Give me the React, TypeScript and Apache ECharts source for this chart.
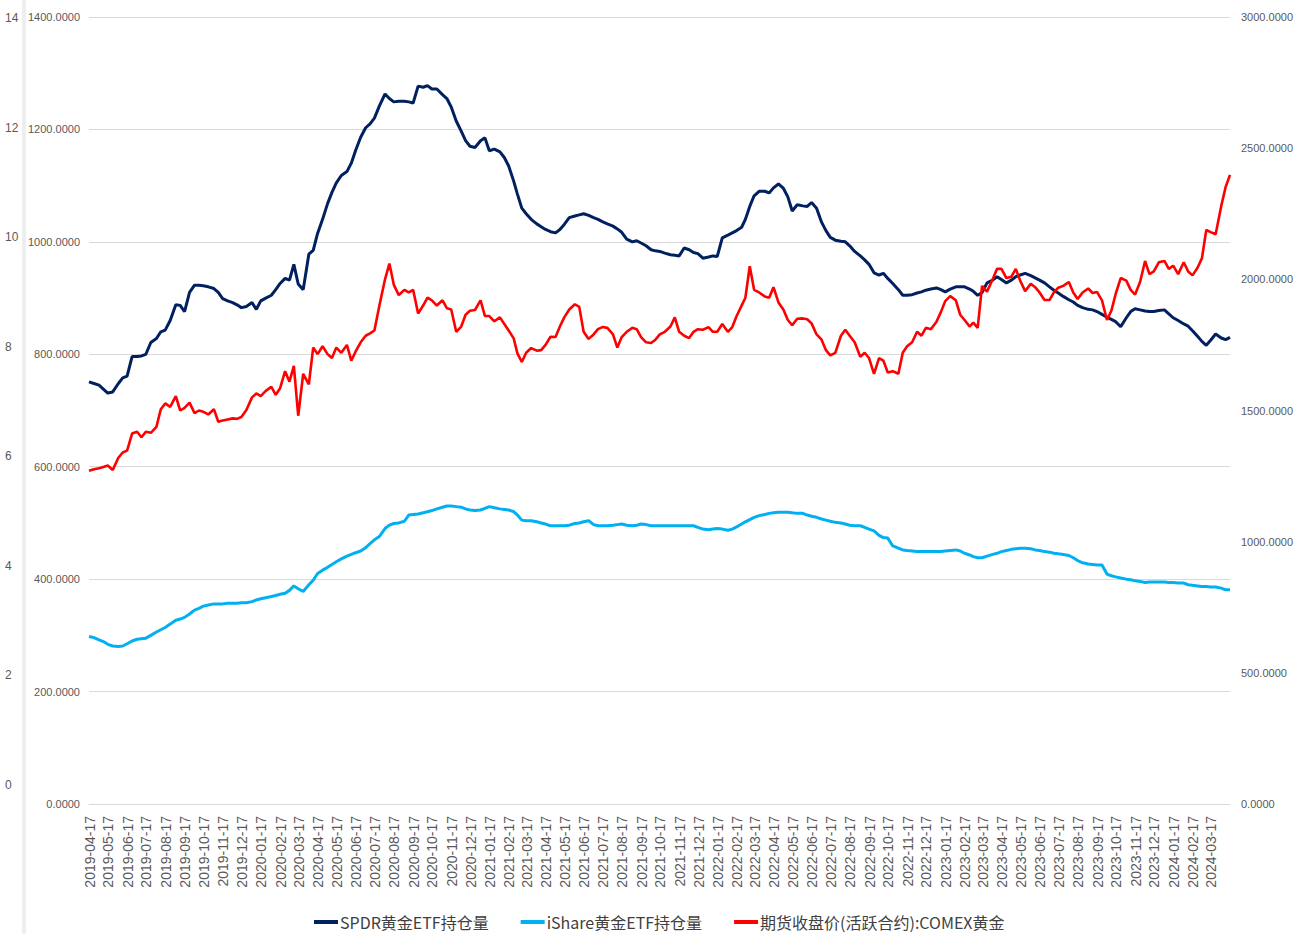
import React, { useEffect, useRef } from "react";
import * as echarts from "echarts";

const pad = (n: number) => String(n).padStart(2, "0");

// sampling dates (2nd, 9th, 16th, 24th of each month), 2019-04-16 .. 2024-04-16
const sampleDates: string[] = [];
for (let y = 2019; y <= 2024; y++) {
  for (let m = 1; m <= 12; m++) {
    for (const d of [2, 9, 16, 24]) {
      const s = `${y}-${pad(m)}-${pad(d)}`;
      if (s >= "2019-04-16" && s <= "2024-04-16") sampleDates.push(s);
    }
  }
}

// tick labels: the 17th of each month, 2019-04 .. 2024-03
const tickLabels: string[] = [];
for (let y = 2019; y <= 2024; y++) {
  for (let m = 1; m <= 12; m++) {
    const s = `${y}-${pad(m)}-17`;
    if (s >= "2019-04-17" && s <= "2024-03-17") tickLabels.push(s);
  }
}

const seriesNames = ["SPDR黄金ETF持仓量", "iShare黄金ETF持仓量", "期货收盘价(活跃合约):COMEX黄金"];

const spdrValues = [
  // 2019
  751, 748, 745, 738, 731, 733, 748, 758, 761, 796, 796, 797, 800, 821, 828, 840, 843, 860, 888, 887, 876, 910, 923, 923, 922, 920, 917, 910, 899, 895, 892, 888, 883, 885,
  // 2020
  892, 880, 895, 900, 905, 915, 926, 935, 932, 960, 925, 915, 978, 985, 1015, 1040, 1068, 1088, 1105, 1118, 1125, 1140, 1163, 1186, 1203, 1210, 1220, 1242, 1263, 1255, 1249, 1250, 1250, 1249, 1247, 1277, 1275, 1278, 1272, 1272, 1262, 1255, 1240, 1215, 1197, 1180, 1170, 1168,
  // 2021
  1180, 1185, 1162, 1165, 1160, 1150, 1135, 1108, 1085, 1060, 1050, 1040, 1032, 1027, 1022, 1018, 1016, 1022, 1031, 1043, 1046, 1048, 1050, 1047, 1043, 1040, 1036, 1032, 1028, 1023, 1017, 1005, 1000, 1002, 998, 993, 986, 984, 983, 980, 977, 976, 975, 989, 986, 981, 979, 971,
  // 2022
  973, 975, 974, 1007, 1012, 1016, 1020, 1026, 1040, 1063, 1082, 1090, 1090, 1087, 1096, 1103, 1095, 1080, 1055, 1066, 1064, 1063, 1070, 1060, 1035, 1020, 1008, 1003, 1001, 1000, 993, 983, 975, 968, 960, 945, 941, 944, 935, 926, 915, 905, 905, 906, 909, 911, 914, 916,
  // 2023
  918, 915, 911, 916, 920, 920, 920, 916, 912, 905, 910, 927, 932, 938, 933, 927, 932, 938, 941, 944, 940, 936, 932, 927, 920, 914, 909, 903, 897, 893, 887, 883, 880, 879, 876, 871, 866, 862, 858, 849, 865, 876, 881, 879, 877, 876, 876, 878,
  // 2024
  879, 872, 865, 860, 854, 850, 842, 832, 823, 816, 825, 836, 829, 826, 830,
];

const ishareValues = [
  // 2019
  298, 296, 292, 289, 284, 281, 280, 281, 285, 290, 293, 294, 295, 300, 306, 310, 314, 320, 327, 329, 332, 338, 345, 348, 352, 354, 356, 356, 356, 357, 357, 357, 358, 358,
  // 2020
  360, 363, 365, 367, 369, 371, 373, 375, 380, 388, 383, 378, 390, 398, 410, 416, 421, 426, 431, 436, 441, 444, 447, 450, 456, 463, 470, 476, 490, 496, 499, 500, 503, 514, 515, 516, 518, 520, 522, 525, 528, 530, 530, 529, 528, 525, 523, 522,
  // 2021
  523, 526, 529, 527, 525, 524, 523, 520, 514, 505, 504, 504, 502, 500, 498, 495, 495, 495, 495, 496, 499, 500, 502, 504, 497, 495, 495, 495, 496, 497, 498, 496, 495, 496, 498, 497, 495, 495, 495, 495, 495, 495, 495, 495, 495, 495, 492, 489,
  // 2022
  488, 489, 490, 489, 487, 489, 493, 498, 502, 506, 510, 513, 515, 517, 518, 519, 519, 519, 518, 517, 517, 514, 512, 510, 507, 505, 503, 501, 500, 498, 496, 495, 495, 492, 489, 486, 478, 474, 473, 459, 455, 452, 451, 450, 449, 449, 449, 449,
  // 2023
  449, 449, 450, 451, 452, 450, 446, 443, 440, 438, 438, 441, 444, 446, 449, 451, 453, 454, 455, 455, 454, 452, 451, 449, 448, 446, 445, 444, 442, 438, 433, 429, 427, 426, 425, 425, 409, 406, 404, 402, 400, 399, 397, 396, 394, 395, 395, 395,
  // 2024
  395, 394, 394, 393, 393, 390, 389, 388, 387, 387, 386, 386, 384, 381, 381,
];

const comexValues = [
  // 2019
  1270, 1276, 1280, 1285, 1290, 1273, 1320, 1340, 1347, 1412, 1419, 1398, 1419, 1415, 1438, 1505, 1527, 1514, 1555, 1500, 1510, 1530, 1490, 1500, 1495, 1485, 1505, 1457, 1462, 1466, 1470, 1468, 1475, 1502,
  // 2020
  1550, 1565, 1555, 1575, 1590, 1560, 1585, 1650, 1610, 1670, 1480, 1640, 1600, 1740, 1715, 1745, 1715, 1700, 1740, 1720, 1750, 1690, 1725, 1760, 1785, 1794, 1805, 1900, 2000, 2060, 1980, 1940, 1960, 1950, 1960, 1870, 1900, 1930, 1920, 1900, 1920, 1890, 1885, 1800, 1820, 1865, 1880, 1883,
  // 2021
  1920, 1860, 1860, 1840, 1855, 1830, 1805, 1775, 1718, 1685, 1720, 1738, 1728, 1730, 1750, 1781, 1780, 1820, 1855, 1885, 1905, 1895, 1800, 1773, 1790, 1810, 1818, 1815, 1790, 1740, 1780, 1800, 1815, 1810, 1780, 1760, 1757, 1770, 1790, 1800, 1820, 1855, 1800, 1785, 1776, 1800, 1810, 1808,
  // 2022
  1818, 1800, 1800, 1830, 1800, 1818, 1860, 1900, 1930, 2050, 1960, 1950, 1935, 1930, 1970, 1912, 1884, 1845, 1825, 1850, 1851, 1848, 1832, 1790, 1770, 1730, 1710, 1720, 1785, 1808, 1785, 1760, 1705, 1720, 1700, 1640, 1700, 1690, 1645, 1650, 1640, 1720, 1745, 1760, 1800, 1785, 1815, 1810,
  // 2023
  1838, 1875, 1917, 1936, 1920, 1865, 1845, 1820, 1835, 1815, 1975, 1953, 2000, 2040, 2040, 2005, 2010, 2040, 1995, 1955, 1983, 1970, 1950, 1921, 1921, 1950, 1968, 1975, 1990, 1950, 1925, 1950, 1965, 1948, 1952, 1920, 1845, 1880, 1945, 2005, 1995, 1960, 1942, 1990, 2070, 2020, 2030, 2065,
  // 2024
  2070, 2040, 2052, 2020, 2065, 2030, 2015, 2044, 2080, 2188, 2180, 2172, 2280, 2352, 2398,
];

const leftTicks = { min: 0, max: 1400, interval: 200 };
const rightTicks = { min: 0, max: 3000, interval: 500 };
const outerTicks = { min: 0, max: 14, interval: 2 };

const toTs = (s: string) => {
  const [y, m, d] = s.split("-").map(Number);
  return new Date(y, m - 1, d).getTime();
};
const fmtDate = (v: number) => {
  const d = new Date(v);
  return `${d.getFullYear()}-${pad(d.getMonth() + 1)}-${pad(d.getDate())}`;
};

const SANS = "'Liberation Sans', Arial, sans-serif";
const LABEL_COLOR = "#595959";

export default function App() {
  const ref = useRef<HTMLDivElement>(null);
  useEffect(() => {
    if (!ref.current) return;
    const chart = echarts.init(ref.current, undefined, { renderer: "svg" });
    const zip = (vals: number[]) => sampleDates.map((d, i) => [toTs(d), vals[i]]);
    chart.setOption({
      animation: false,
      backgroundColor: "#ffffff",
      graphic: [
        { type: "rect", left: 22, top: 0, shape: { width: 4, height: 934 }, style: { fill: "#eeeeee" }, silent: true },
      ],
      grid: [
        { left: 89, right: 58, top: 17, bottom: 130 },
        { left: 13, width: 1, top: 18, bottom: 149 },
      ],
      legend: {
        left: 309,
        top: 909,
        itemWidth: 24,
        itemHeight: 4,
        itemGap: 32,
        icon: "rect",
        textStyle: { fontSize: 16, color: "#404040", fontFamily: "'Noto Sans CJK SC', sans-serif", padding: [0, 0, 0, -3] },
        data: seriesNames,
      },
      xAxis: [
        {
          type: "value",
          gridIndex: 0,
          min: toTs("2019-04-16"),
          max: toTs("2024-04-16"),
          axisLine: { show: true, onZero: false, lineStyle: { color: "#d9d9d9", width: 1 } },
          axisTick: { show: false },
          splitLine: { show: false },
          axisLabel: {
            rotate: 90,
            margin: 12,
            color: LABEL_COLOR,
            fontSize: 14,
            fontFamily: SANS,
            customValues: tickLabels.map(toTs),
            formatter: (v: number) => fmtDate(v),
          },
        },
        { type: "value", gridIndex: 1, show: false, min: 0, max: 1 },
      ],
      yAxis: [
        {
          type: "value",
          gridIndex: 0,
          position: "left",
          ...leftTicks,
          axisLine: { show: false },
          axisTick: { show: false },
          splitLine: { show: true, lineStyle: { color: "#d9d9d9", width: 1 } },
          axisLabel: { margin: 9, color: LABEL_COLOR, fontSize: 11, fontFamily: SANS, formatter: (v: number) => v.toFixed(4) },
        },
        {
          type: "value",
          gridIndex: 0,
          position: "right",
          ...rightTicks,
          axisLine: { show: false },
          axisTick: { show: false },
          splitLine: { show: false },
          axisLabel: { margin: 11, color: LABEL_COLOR, fontSize: 11, fontFamily: SANS, formatter: (v: number) => v.toFixed(4) },
        },
        {
          type: "value",
          gridIndex: 1,
          position: "left",
          ...outerTicks,
          axisLine: { show: false },
          axisTick: { show: false },
          splitLine: { show: false },
          axisLabel: { margin: 8, align: "left", color: LABEL_COLOR, fontSize: 12, fontFamily: SANS },
        },
      ],
      series: [
        {
          name: seriesNames[0],
          type: "line",
          xAxisIndex: 0,
          yAxisIndex: 0,
          showSymbol: false,
          color: "#002060",
          lineStyle: { width: 3, color: "#002060" },
          data: zip(spdrValues),
        },
        {
          name: seriesNames[1],
          type: "line",
          xAxisIndex: 0,
          yAxisIndex: 0,
          showSymbol: false,
          color: "#00b0f0",
          lineStyle: { width: 3, color: "#00b0f0" },
          data: zip(ishareValues),
        },
        {
          name: seriesNames[2],
          type: "line",
          xAxisIndex: 0,
          yAxisIndex: 1,
          showSymbol: false,
          color: "#ff0000",
          lineStyle: { width: 2.6, color: "#ff0000" },
          data: zip(comexValues),
        },
      ],
    });
    return () => chart.dispose();
  }, []);
  return <div ref={ref} style={{ position: "fixed", left: 0, top: 0, width: 1296, height: 934 }} />;
}
